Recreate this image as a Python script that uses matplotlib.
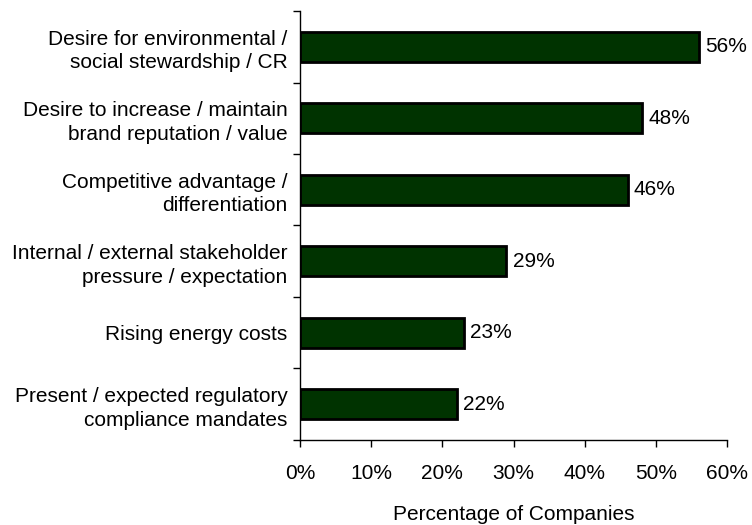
import numpy as np
import matplotlib.pyplot as plt
from matplotlib.ticker import FixedLocator

plt.rcParams['font.family'] = ['Liberation Sans', 'DejaVu Sans']

categories = [
    "Desire for environmental /\nsocial stewardship / CR",
    "Desire to increase / maintain\nbrand reputation / value",
    "Competitive advantage /\ndifferentiation",
    "Internal / external stakeholder\npressure / expectation",
    "Rising energy costs",
    "Present / expected regulatory\ncompliance mandates",
]
values = [56, 48, 46, 29, 23, 22]
x_ticks = [0, 10, 20, 30, 40, 50, 60]

fig = plt.figure(figsize=(7.52, 5.25), dpi=100)
ax = fig.add_axes([0.399, 0.162, 0.568, 0.817])

y = np.arange(len(categories))[::-1]
ax.barh(y, values, height=0.42, color='#003300', edgecolor='black', linewidth=2)

for yi, v in zip(y, values):
    ax.text(v + 0.9, yi, f"{v}%", va='center', ha='left', fontsize=15)

ax.set_xlim(0, 60)
ax.set_ylim(-0.5, len(categories) - 0.5)
ax.set_xticks(x_ticks)
ax.set_xticklabels([f"{t}%" for t in x_ticks], fontsize=15)
ax.set_yticks(y)
ax.set_yticklabels(categories, fontsize=15, linespacing=1.3)
ax.tick_params(axis='y', length=0, pad=9)
ax.tick_params(axis='x', length=5, width=1, pad=12)
ax.yaxis.set_minor_locator(FixedLocator(np.arange(-0.5, len(categories), 1.0)))
ax.tick_params(axis='y', which='minor', length=5, width=1)

for s in ['top', 'right']:
    ax.spines[s].set_visible(False)
ax.spines['left'].set_linewidth(1)
ax.spines['bottom'].set_linewidth(1)

ax.set_xlabel("Percentage of Companies", fontsize=15, labelpad=16)

fig.savefig("out.png", dpi=100)
